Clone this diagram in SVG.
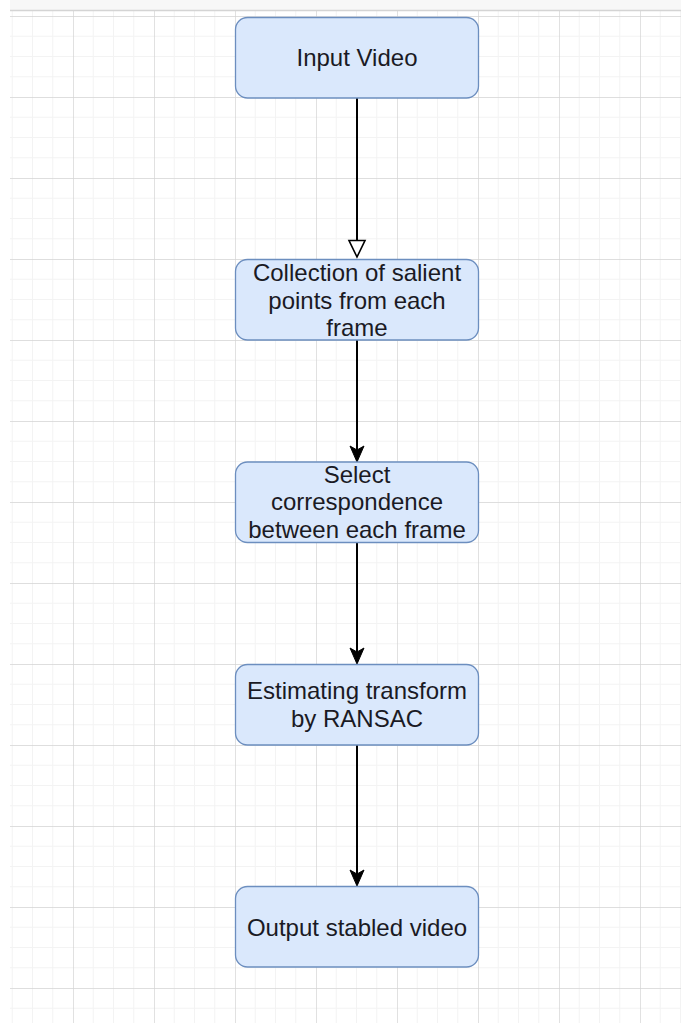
<svg xmlns="http://www.w3.org/2000/svg" width="681" height="1023" viewBox="0 0 681 1023">
  <defs>
    <style>
      .node rect { fill: #dae8fc; stroke: #6c8ebf; stroke-width: 1.3; }
      .node text { font-family: "Liberation Sans", Arial, sans-serif; font-size: 24px; fill: #1a1a24; text-anchor: middle; }
      .edge { stroke: #000; stroke-width: 2; fill: none; }
      .head-open { fill: #fff; stroke: #000; stroke-width: 1.6; }
      .head-block { fill: #000; stroke: #000; stroke-width: 1; }
      .minor { stroke: #f3f3f3; stroke-width: 1; }
      .major { stroke: #d4d4d4; stroke-width: 1.4; }
    </style>
    <!-- canvas grid: 81px major cells split into 4 minor steps -->
    <pattern id="grid" x="73" y="16" width="81" height="81" patternUnits="userSpaceOnUse">
      <path class="minor" d="M20.25 0V81M40.5 0V81M60.75 0V81M0 20.25H81M0 40.5H81M0 60.75H81"/>
      <path class="major" d="M0 0V81M0 0H81"/>
    </pattern>
  </defs>

  <rect width="681" height="1023" fill="#fff"/>
  <rect x="10" y="0" width="671" height="10" fill="#f7f7f7"/>
  <rect x="10" y="10" width="671" height="1013" fill="url(#grid)"/>
  <line x1="10" y1="10.5" x2="681" y2="10.5" stroke="#d4d4d4" stroke-width="1.4"/>

  <g id="connectors">
    <path class="edge" d="M357 98V241"/>
    <path class="head-open" d="M349 240.5L365 240.5L357 257Z"/>
    <path class="edge" d="M357 340V450"/>
    <path class="head-block" d="M350 446L357 450L364 446L357 462Z"/>
    <path class="edge" d="M357 542V652"/>
    <path class="head-block" d="M350 648L357 652L364 648L357 664Z"/>
    <path class="edge" d="M357 745V874"/>
    <path class="head-block" d="M350 870L357 874L364 870L357 886Z"/>
  </g>

  <g id="node-input" class="node">
    <rect x="235.5" y="17.5" width="243" height="80.5" rx="12"/>
    <text x="357" y="66">Input Video</text>
  </g>

  <g id="node-salient" class="node">
    <rect x="235.5" y="259.5" width="243" height="80.5" rx="12"/>
    <text x="357" y="281">Collection of salient</text>
    <text x="357" y="309">points from each</text>
    <text x="357" y="336">frame</text>
  </g>

  <g id="node-correspondence" class="node">
    <rect x="235.5" y="462" width="243" height="80.5" rx="12"/>
    <text x="357" y="483">Select</text>
    <text x="357" y="510">correspondence</text>
    <text x="357" y="538">between each frame</text>
  </g>

  <g id="node-ransac" class="node">
    <rect x="235.5" y="664.5" width="243" height="80.5" rx="12"/>
    <text x="357" y="699">Estimating transform</text>
    <text x="357" y="727">by RANSAC</text>
  </g>

  <g id="node-output" class="node">
    <rect x="235.5" y="886.5" width="243" height="80.5" rx="12"/>
    <text x="357" y="936">Output stabled video</text>
  </g>
</svg>
